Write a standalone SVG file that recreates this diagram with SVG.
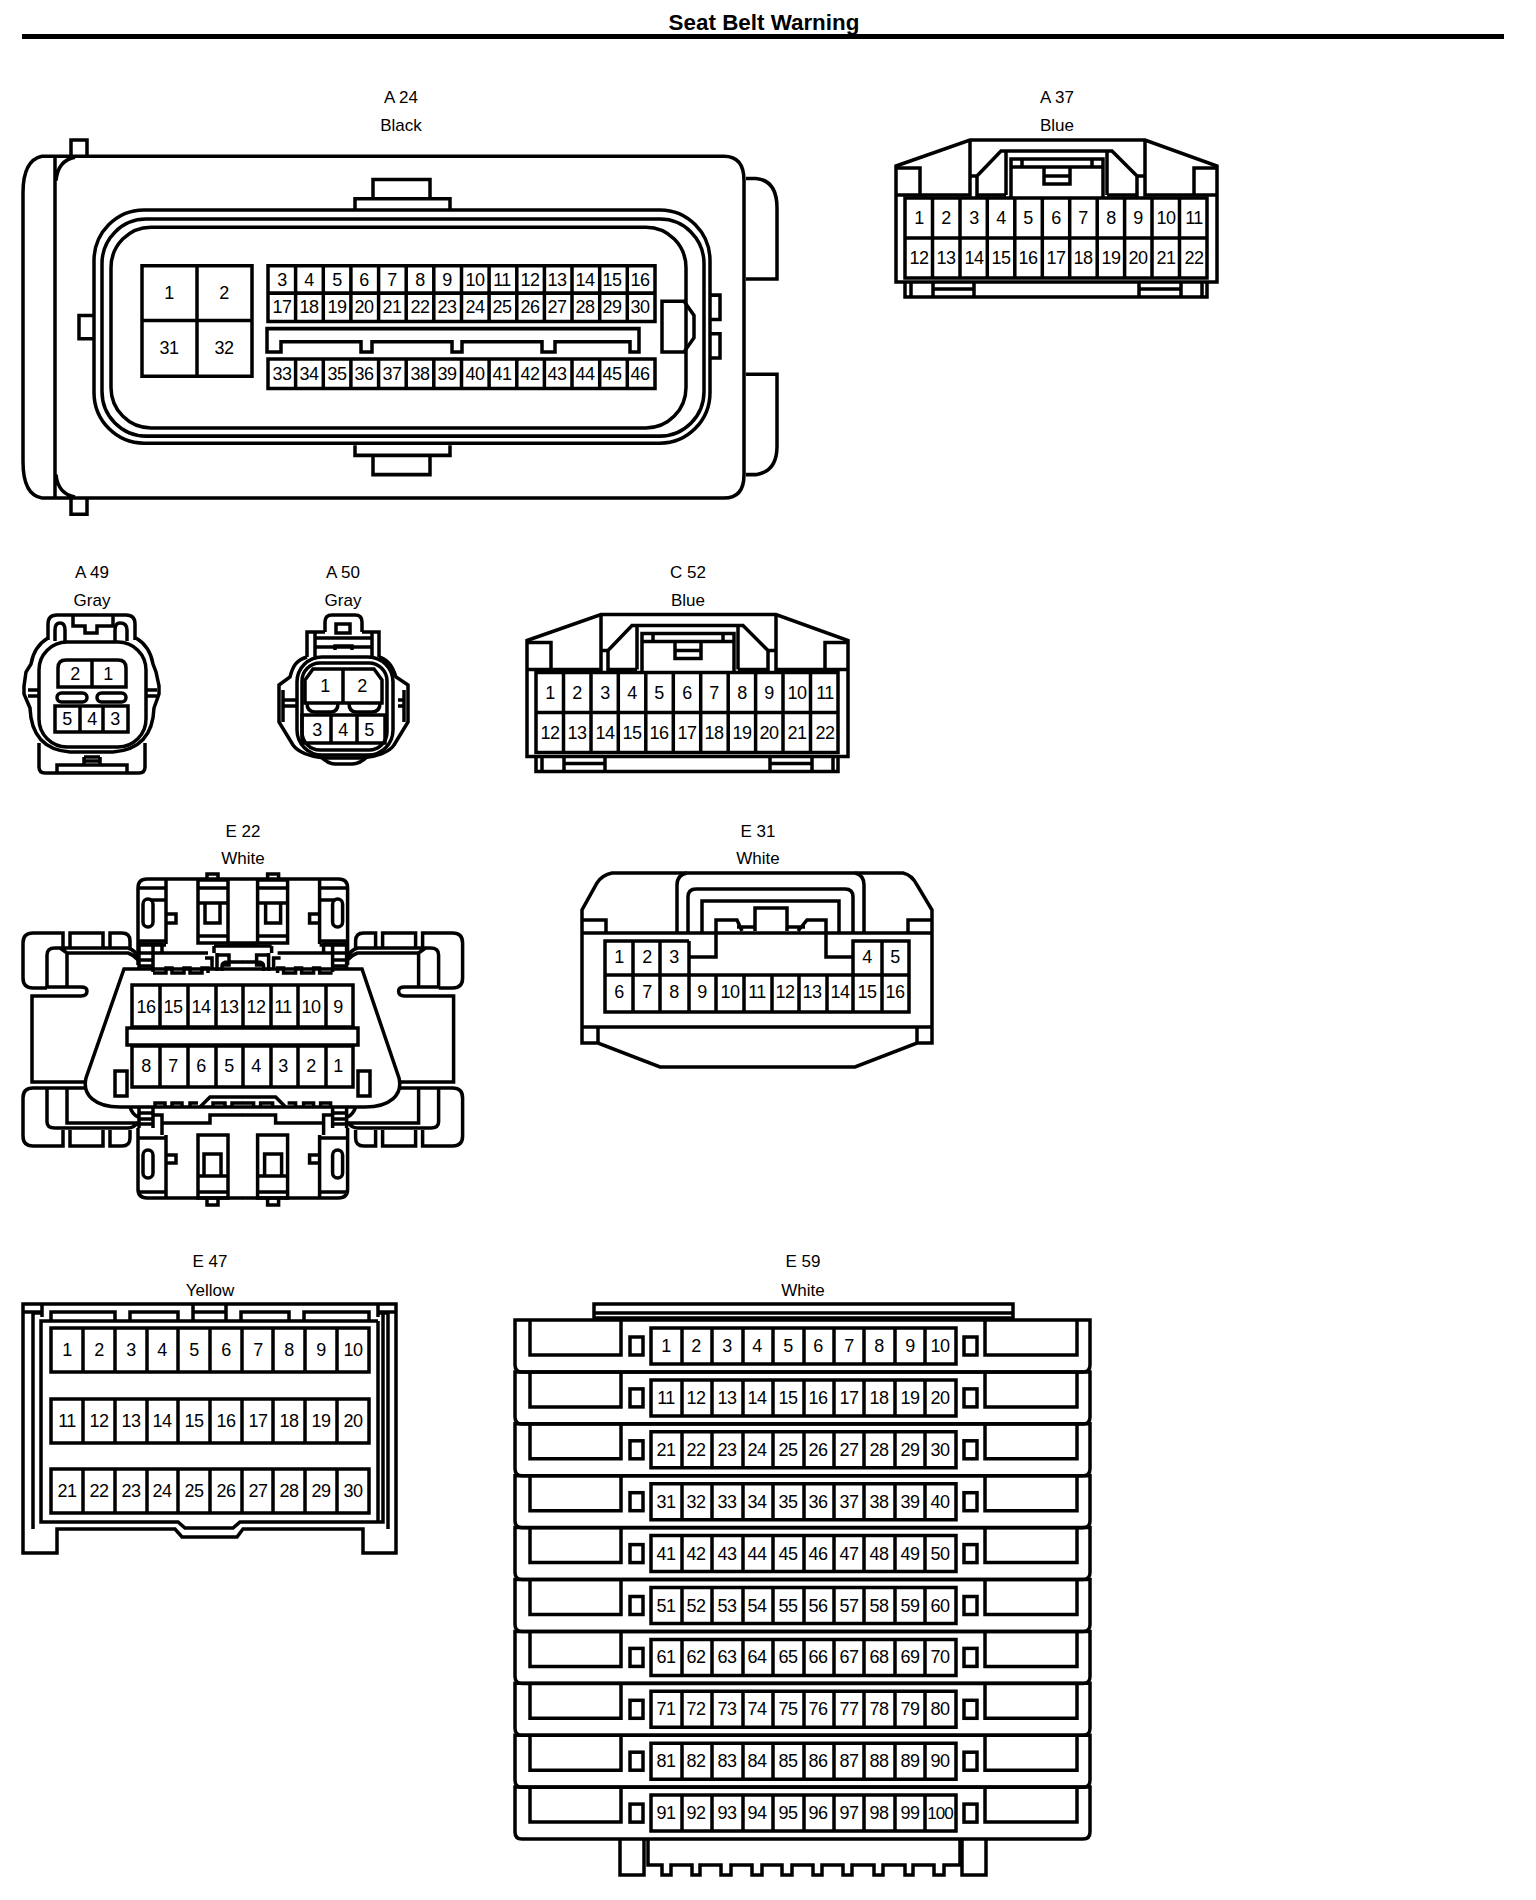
<svg xmlns="http://www.w3.org/2000/svg" xmlns:xlink="http://www.w3.org/1999/xlink" width="1536" height="1900" viewBox="0 0 1536 1900">
<style>
.s{fill:none;stroke:#000;stroke-width:3.5}
text{font-family:"Liberation Sans",Arial,sans-serif;text-anchor:middle;fill:#000;font-size:18px;letter-spacing:-0.5px}
.l{font-size:17px;letter-spacing:0}
.ti{font-size:22.4px;font-weight:bold;letter-spacing:0}
</style>
<defs>
<g id="shell22" class="s">
<path d="M896,166L970,140H1145L1217,166V282H896Z"/>
<path d="M896,168H920V195M896,195H970V140M977,195H1006M1107,195H1137M1145,140V195H1217M1217,168H1194V195"/>
<path d="M970,176H977V198L977,176L1001,151H1112L1137,176V198M1137,176H1145"/>
<path d="M1006,151V195M1107,151V195"/>
<path d="M1011,197V159H1103V197M1011,167H1103M1022,159V167M1092,159V167"/>
<path d="M1044,168V184H1070V168M1044,176H1070"/>
<path d="M905,198H1207V278H905ZM905,238H1207M932.5,198V278M960,198V278M987.3,198V278M1014.8,198V278M1042.3,198V278M1069.7,198V278M1097.2,198V278M1124.6,198V278M1152,198V278M1179.5,198V278"/>
<path d="M905,282V297H1207V282M911,282V297M933,282V297M974,282V297M933,289H974M1139,282V297M1181,282V297M1139,289H1181M1202,282V297"/>
</g>
<g id="e22half" class="s">
<path d="M138,965V888Q138,879 147,879H243M138,1128V1189Q138,1198 147,1198H243"/>
<path d="M207,879V874H218V879M207,1198V1205H218V1198"/>
<path d="M166,879V944M138,888H166M150,900H166M138,941H166M138,945H166"/>
<rect x="143" y="899" width="10" height="28" rx="5"/>
<path d="M166,914H176V923H166"/>
<rect x="198" y="880" width="30" height="63"/>
<path d="M198,888H228M198,903H228M198,936H228M205,903V923H220V903M228,943H243M214,946H243M214,946V953M153,953H208M205,958H212V968M217,953V971M217,955H229V965H222M222,971V966Q222,962 228,962H243"/>
<path d="M139,945V968M139,953H153M139,960H153M139,966H153M153,945V972M139,944H162V953"/>
<path d="M153,973H166V968H172V973H184V968H190V973H202V968H208V973"/>
<path d="M139,1108V1128M139,1113H153M139,1119H153M139,1124H153M153,1108V1128M153,1115H162V1135M162,1123H210V1115H243M130,1107Q132,1114 138,1117"/>
<path d="M166,1135V1198M138,1138H166M138,1192H166"/>
<rect x="143" y="1150" width="10" height="28" rx="5"/>
<path d="M166,1155H176V1163H166"/>
<rect x="198" y="1135" width="30" height="63"/>
<path d="M198,1176H228M198,1192H228M204,1176V1154H221V1176"/>
<path d="M155,1107V1103H165V1107M172,1107V1103H182V1107M190,1107V1103H198M200,1107L210,1097H243M213,1107V1103H225V1107M232,1107V1103H243"/>
<path d="M63,948V933H33Q23,933 23,943V978Q23,988 33,988H47M70,948V933H103V948M110,948V933H122Q130,933 130,941V948"/>
<path d="M47,988V955Q47,948 55,948H128Q135,950 138,957M60,948L67,953H128Q134,955 138,960M67,953V988"/>
<path d="M47,987H81Q87,987 87,991Q87,996 81,996H32V1082H85"/>
<path d="M85,1088H33Q23,1088 23,1098V1136Q23,1146 33,1146H63V1130M70,1130V1146H103V1130M110,1130V1146H122Q130,1146 130,1138V1130"/>
<path d="M47,1088V1122Q47,1128 55,1128H128Q134,1128 138,1122M67,1088V1123H138"/>
</g>
<g id="e59row" class="s">
<path d="M515,0V45Q515,52 522,52H1083Q1090,52 1090,45V0Z"/>
<path d="M530,0V35H621V0M1077,0V35H985V0"/>
<rect x="630" y="17" width="13" height="18"/>
<rect x="964" y="17" width="13" height="18"/>
<path d="M651,8H956V44H651ZM682,8V44M712,8V44M743,8V44M773,8V44M804,8V44M834,8V44M864,8V44M895,8V44M925,8V44"/>
</g>
</defs>

<g id="title">
<text class="ti" x="764" y="30">Seat Belt Warning</text>
<rect x="22" y="34" width="1482" height="5"/>
</g>

<g id="A24">
<text class="l" x="401" y="103">A 24</text>
<text class="l" x="401" y="131">Black</text>
<g transform="matrix(1 0 0 1.0142 0 0)">
<g class="s">
<path d="M55,154H724Q744,154 744,178V468Q744,491 724,491H42Q23,488 23,455V190Q23,158 42,154H55M55,154V491M75,155Q58,158 56,178M56,468Q58,487 75,490"/>
<path d="M71,154V138H87V154M71,491V507H87V491"/>
<path d="M373,195V177H430V195M355,207V196H450V207M355,439V449H450V439M373,450V468H430V450"/>
<path d="M746,176H756Q777,178 777,205V275H746M746,369H777V440Q777,465 756,468H746"/>
<path d="M710,291H720V315H710M710,329H720V353H710M94,311H79V334H94"/>
<rect x="94" y="207" width="616" height="230" rx="50"/>
<rect x="102" y="216" width="602" height="214" rx="44"/>
<rect x="111" y="224" width="575" height="198" rx="40"/>
<path d="M142,262H252V371H142ZM197,262V371M142,316H252"/>
<path d="M268,262H655V317H268ZM268,289H655M295.6,262V317M323.3,262V317M350.9,262V317M378.6,262V317M406.2,262V317M433.8,262V317M461.5,262V317M489.1,262V317M516.8,262V317M544.4,262V317M572,262V317M599.7,262V317M627.3,262V317"/>
<path d="M268,354H655V383H268ZM295.6,354V383M323.3,354V383M350.9,354V383M378.6,354V383M406.2,354V383M433.8,354V383M461.5,354V383M489.1,354V383M516.8,354V383M544.4,354V383M572,354V383M599.7,354V383M627.3,354V383"/>
<path d="M267,347V324H639V347H630V337H555V347H542V337H462V347H452V337H372V347H361V337H281V347Z"/>
<path d="M662,297H684L694,311V333L684,347H662Z"/>
</g>
<text x="169" y="295">1</text><text x="224" y="295">2</text><text x="169" y="349">31</text><text x="224" y="349">32</text>
<text x="282" y="282">3</text><text x="309" y="282">4</text><text x="337" y="282">5</text><text x="364" y="282">6</text><text x="392" y="282">7</text><text x="420" y="282">8</text><text x="447" y="282">9</text><text x="475" y="282">10</text><text x="502" y="282">11</text><text x="530" y="282">12</text><text x="557" y="282">13</text><text x="585" y="282">14</text><text x="612" y="282">15</text><text x="640" y="282">16</text>
<text x="282" y="309">17</text><text x="309" y="309">18</text><text x="337" y="309">19</text><text x="364" y="309">20</text><text x="392" y="309">21</text><text x="420" y="309">22</text><text x="447" y="309">23</text><text x="475" y="309">24</text><text x="502" y="309">25</text><text x="530" y="309">26</text><text x="557" y="309">27</text><text x="585" y="309">28</text><text x="612" y="309">29</text><text x="640" y="309">30</text>
<text x="282" y="375">33</text><text x="309" y="375">34</text><text x="337" y="375">35</text><text x="364" y="375">36</text><text x="392" y="375">37</text><text x="420" y="375">38</text><text x="447" y="375">39</text><text x="475" y="375">40</text><text x="502" y="375">41</text><text x="530" y="375">42</text><text x="557" y="375">43</text><text x="585" y="375">44</text><text x="612" y="375">45</text><text x="640" y="375">46</text>
</g>
</g>

<g id="A37">
<text class="l" x="1057" y="103">A 37</text>
<text class="l" x="1057" y="131">Blue</text>
<use href="#shell22" xlink:href="#shell22"/>
<text x="919" y="224">1</text><text x="946" y="224">2</text><text x="974" y="224">3</text><text x="1001" y="224">4</text><text x="1028" y="224">5</text><text x="1056" y="224">6</text><text x="1083" y="224">7</text><text x="1111" y="224">8</text><text x="1138" y="224">9</text><text x="1166" y="224">10</text><text x="1194" y="224">11</text>
<text x="919" y="264">12</text><text x="946" y="264">13</text><text x="974" y="264">14</text><text x="1001" y="264">15</text><text x="1028" y="264">16</text><text x="1056" y="264">17</text><text x="1083" y="264">18</text><text x="1111" y="264">19</text><text x="1138" y="264">20</text><text x="1166" y="264">21</text><text x="1194" y="264">22</text>
</g>

<g id="A49">
<text class="l" x="92" y="578">A 49</text>
<text class="l" x="92" y="606">Gray</text>
<g class="s">
<path d="M48,640V624Q48,615 57,615H126Q135,615 135,624V640"/>
<path d="M55,641V630Q55,623 60,623Q65,623 65,630V641M115,641V630Q115,623 120,623Q127,623 127,630V641"/>
<path d="M73,616V626H85V633H97V626H113V616"/>
<path d="M48,638C38,644 33,652 31,664L26,672L24,686V694L30,708C31,735 44,750 70,752H113C140,750 153,735 154,708L159,694V686L156,672L153,664C151,652 146,644 136,638"/>
<rect x="39" y="642" width="107" height="105" rx="28"/>
<path d="M28,690H38M28,696H38M147,690H157M147,696H157"/>
<path d="M58,687V668Q58,660 66,660H118Q126,660 126,668V687ZM92,660V687"/>
<rect x="57" y="693" width="30" height="9" rx="4.5"/>
<rect x="97" y="693" width="29" height="9" rx="4.5"/>
<path d="M55,706H128V732H55ZM80,706V732M103,706V732"/>
<path d="M39,743V767Q39,773 45,773H139Q145,773 145,767V743M57,772V765H127V772M84,757V765M100,757V765M84,757H100M84,761H100"/>
</g>
<text x="75" y="680">2</text><text x="108" y="680">1</text><text x="67" y="725">5</text><text x="92" y="725">4</text><text x="115" y="725">3</text>
</g>

<g id="A50">
<text class="l" x="343" y="578">A 50</text>
<text class="l" x="343" y="606">Gray</text>
<g class="s">
<path d="M325,632V622Q325,615 332,615H355Q362,615 362,622V632"/>
<rect x="336" y="624" width="14" height="9"/>
<path d="M325,632H315V657M362,632H372V657M315,632H307V657M372,632H379V657M315,638H372M315,647H372M335,650V646H352V650"/>
<path d="M307,657C297,660 293,665 290,677L279,685V722L293,745C300,755 315,757 325,758H362C375,757 390,752 394,745L408,722V685L396,677C392,665 388,660 379,657"/>
<rect x="297" y="657" width="96" height="98" rx="25"/>
<rect x="302" y="663" width="85" height="87" rx="18"/>
<path d="M283,700H297M283,706H297M398,700H404M398,706H404M283,690V722M404,690V722"/>
<path d="M305,703V680L313,669H374L382,680V703ZM343,669V703"/>
<path d="M307,703Q307,712 315,712H331Q338,712 338,703M349,703Q349,712 356,712H372Q380,712 380,703"/>
<path d="M302,715H385V743H302ZM331,715V743M357,715V743"/>
<path d="M320,756Q328,764 335,764H352Q360,764 368,756"/>
</g>
<text x="325" y="692">1</text><text x="362" y="692">2</text><text x="317" y="736">3</text><text x="343" y="736">4</text><text x="369" y="736">5</text>
</g>

<g id="C52" transform="translate(-369 474.5)">
<text class="l" x="1057" y="103">C 52</text>
<text class="l" x="1057" y="131">Blue</text>
<use href="#shell22" xlink:href="#shell22"/>
<text x="919" y="224">1</text><text x="946" y="224">2</text><text x="974" y="224">3</text><text x="1001" y="224">4</text><text x="1028" y="224">5</text><text x="1056" y="224">6</text><text x="1083" y="224">7</text><text x="1111" y="224">8</text><text x="1138" y="224">9</text><text x="1166" y="224">10</text><text x="1194" y="224">11</text>
<text x="919" y="264">12</text><text x="946" y="264">13</text><text x="974" y="264">14</text><text x="1001" y="264">15</text><text x="1028" y="264">16</text><text x="1056" y="264">17</text><text x="1083" y="264">18</text><text x="1111" y="264">19</text><text x="1138" y="264">20</text><text x="1166" y="264">21</text><text x="1194" y="264">22</text>
</g>

<g id="E22">
<text class="l" x="243" y="837">E 22</text>
<text class="l" x="243" y="864">White</text>
<use href="#e22half" xlink:href="#e22half"/>
<use href="#e22half" xlink:href="#e22half" transform="matrix(-1 0 0 1 485.6 0)"/>
<g class="s">
<path d="M124,969H362L399,1078C403,1095 390,1107 365,1107H120C95,1107 82,1095 86,1078Z"/>
<path d="M132,985H353V1027H132ZM160,985V1027M188,985V1027M216,985V1027M243,985V1027M271,985V1027M298,985V1027M326,985V1027"/>
<rect x="127" y="1028" width="231" height="17"/>
<path d="M132,1046H353V1087H132ZM160,1046V1087M188,1046V1087M216,1046V1087M243,1046V1087M271,1046V1087M298,1046V1087M326,1046V1087"/>
<rect x="115" y="1071" width="12" height="25"/>
<rect x="358" y="1071" width="12" height="25"/>
</g>
<text x="146" y="1013">16</text><text x="173" y="1013">15</text><text x="201" y="1013">14</text><text x="229" y="1013">13</text><text x="256" y="1013">12</text><text x="283" y="1013">11</text><text x="311" y="1013">10</text><text x="338" y="1013">9</text>
<text x="146" y="1072">8</text><text x="173" y="1072">7</text><text x="201" y="1072">6</text><text x="229" y="1072">5</text><text x="256" y="1072">4</text><text x="283" y="1072">3</text><text x="311" y="1072">2</text><text x="338" y="1072">1</text>
</g>

<g id="E31">
<text class="l" x="758" y="837">E 31</text>
<text class="l" x="758" y="864">White</text>
<g class="s">
<path d="M582,1043V910L597,883Q602,875 612,873H903Q912,875 917,885L932,910V1043H917L855,1067H660L598,1043Z"/>
<path d="M582,1027H932M598,1027V1043M917,1027V1043"/>
<path d="M582,933H932M582,920H606V933M932,920H908V933"/>
<path d="M677,933V885Q677,875 687,873M864,933V885Q864,875 855,873"/>
<path d="M688,933V897Q688,889 696,889H845Q853,889 853,897V933"/>
<path d="M702,933V901H839V933"/>
<path d="M755,931V908H787V931"/>
<path d="M689,957H716V920H737L742,931M737,927H755M853,957H826V920H807L798,931M805,927H787"/>
<path d="M689,941H605V1012H909V941H853V1012M605,975H909M633,941V1012M660,941V1012M689,941V1012M716,975V1012M744,975V1012M772,975V1012M799,975V1012M827,975V1012M882,941V1012"/>
</g>
<text x="619" y="963">1</text><text x="647" y="963">2</text><text x="674" y="963">3</text><text x="867" y="963">4</text><text x="895" y="963">5</text>
<text x="619" y="998">6</text><text x="647" y="998">7</text><text x="674" y="998">8</text><text x="702" y="998">9</text><text x="730" y="998">10</text><text x="757" y="998">11</text><text x="785" y="998">12</text><text x="812" y="998">13</text><text x="840" y="998">14</text><text x="867" y="998">15</text><text x="895" y="998">16</text>
</g>

<g id="E47">
<text class="l" x="210" y="1267">E 47</text>
<text class="l" x="210" y="1296">Yellow</text>
<g class="s">
<path d="M23,1304H396V1553H363V1529H243L237,1537H182L175,1529H57V1553H23Z"/>
<path d="M33,1529V1313H42M388,1529V1313H378M42,1304V1317M378,1304V1317M23,1312H42M378,1312H396M383,1313V1522H240L233,1528H185L178,1522H41V1321H378"/>
<path d="M51,1321V1312H115V1321M130,1321V1312H178V1321M193,1321V1304M226,1321V1304M193,1312H226M241,1321V1312H289V1321M304,1321V1312H369V1321"/>
<path d="M378,1321V1522"/>
<path d="M51,1328H369V1372H51ZM83,1328V1372M115,1328V1372M147,1328V1372M178,1328V1372M210,1328V1372M242,1328V1372M273,1328V1372M305,1328V1372M337,1328V1372"/>
<path d="M51,1399H369V1443H51ZM83,1399V1443M115,1399V1443M147,1399V1443M178,1399V1443M210,1399V1443M242,1399V1443M273,1399V1443M305,1399V1443M337,1399V1443"/>
<path d="M51,1469H369V1513H51ZM83,1469V1513M115,1469V1513M147,1469V1513M178,1469V1513M210,1469V1513M242,1469V1513M273,1469V1513M305,1469V1513M337,1469V1513"/>
</g>
<text x="67" y="1356">1</text><text x="99" y="1356">2</text><text x="131" y="1356">3</text><text x="162" y="1356">4</text><text x="194" y="1356">5</text><text x="226" y="1356">6</text><text x="258" y="1356">7</text><text x="289" y="1356">8</text><text x="321" y="1356">9</text><text x="353" y="1356">10</text>
<text x="67" y="1427">11</text><text x="99" y="1427">12</text><text x="131" y="1427">13</text><text x="162" y="1427">14</text><text x="194" y="1427">15</text><text x="226" y="1427">16</text><text x="258" y="1427">17</text><text x="289" y="1427">18</text><text x="321" y="1427">19</text><text x="353" y="1427">20</text>
<text x="67" y="1497">21</text><text x="99" y="1497">22</text><text x="131" y="1497">23</text><text x="162" y="1497">24</text><text x="194" y="1497">25</text><text x="226" y="1497">26</text><text x="258" y="1497">27</text><text x="289" y="1497">28</text><text x="321" y="1497">29</text><text x="353" y="1497">30</text>
</g>

<g id="E59">
<text class="l" x="803" y="1267">E 59</text>
<text class="l" x="803" y="1296">White</text>
<g class="s">
<path d="M594,1320V1304H1013V1320M594,1313H1013M594,1318H1013"/>
<path d="M620,1839V1875H644V1839M962,1839V1875H986V1839"/>
<path d="M648,1839V1865H662V1875H671V1865H692V1875H700V1865H721V1875H731V1865H752V1875H762V1865H782V1875H792V1865H813V1875H822V1865H843V1875H852V1865H874V1875H883V1865H905V1875H913V1865H934V1875H944V1865H960V1839"/>
</g>
<g transform="translate(0 1320)"><use href="#e59row" xlink:href="#e59row"/><text x="666" y="32">1</text><text x="696" y="32">2</text><text x="727" y="32">3</text><text x="757" y="32">4</text><text x="788" y="32">5</text><text x="818" y="32">6</text><text x="849" y="32">7</text><text x="879" y="32">8</text><text x="910" y="32">9</text><text x="940" y="32">10</text></g>
<g transform="translate(0 1371.9)"><use href="#e59row" xlink:href="#e59row"/><text x="666" y="32">11</text><text x="696" y="32">12</text><text x="727" y="32">13</text><text x="757" y="32">14</text><text x="788" y="32">15</text><text x="818" y="32">16</text><text x="849" y="32">17</text><text x="879" y="32">18</text><text x="910" y="32">19</text><text x="940" y="32">20</text></g>
<g transform="translate(0 1423.8)"><use href="#e59row" xlink:href="#e59row"/><text x="666" y="32">21</text><text x="696" y="32">22</text><text x="727" y="32">23</text><text x="757" y="32">24</text><text x="788" y="32">25</text><text x="818" y="32">26</text><text x="849" y="32">27</text><text x="879" y="32">28</text><text x="910" y="32">29</text><text x="940" y="32">30</text></g>
<g transform="translate(0 1475.7)"><use href="#e59row" xlink:href="#e59row"/><text x="666" y="32">31</text><text x="696" y="32">32</text><text x="727" y="32">33</text><text x="757" y="32">34</text><text x="788" y="32">35</text><text x="818" y="32">36</text><text x="849" y="32">37</text><text x="879" y="32">38</text><text x="910" y="32">39</text><text x="940" y="32">40</text></g>
<g transform="translate(0 1527.6)"><use href="#e59row" xlink:href="#e59row"/><text x="666" y="32">41</text><text x="696" y="32">42</text><text x="727" y="32">43</text><text x="757" y="32">44</text><text x="788" y="32">45</text><text x="818" y="32">46</text><text x="849" y="32">47</text><text x="879" y="32">48</text><text x="910" y="32">49</text><text x="940" y="32">50</text></g>
<g transform="translate(0 1579.5)"><use href="#e59row" xlink:href="#e59row"/><text x="666" y="32">51</text><text x="696" y="32">52</text><text x="727" y="32">53</text><text x="757" y="32">54</text><text x="788" y="32">55</text><text x="818" y="32">56</text><text x="849" y="32">57</text><text x="879" y="32">58</text><text x="910" y="32">59</text><text x="940" y="32">60</text></g>
<g transform="translate(0 1631.4)"><use href="#e59row" xlink:href="#e59row"/><text x="666" y="32">61</text><text x="696" y="32">62</text><text x="727" y="32">63</text><text x="757" y="32">64</text><text x="788" y="32">65</text><text x="818" y="32">66</text><text x="849" y="32">67</text><text x="879" y="32">68</text><text x="910" y="32">69</text><text x="940" y="32">70</text></g>
<g transform="translate(0 1683.3)"><use href="#e59row" xlink:href="#e59row"/><text x="666" y="32">71</text><text x="696" y="32">72</text><text x="727" y="32">73</text><text x="757" y="32">74</text><text x="788" y="32">75</text><text x="818" y="32">76</text><text x="849" y="32">77</text><text x="879" y="32">78</text><text x="910" y="32">79</text><text x="940" y="32">80</text></g>
<g transform="translate(0 1735.2)"><use href="#e59row" xlink:href="#e59row"/><text x="666" y="32">81</text><text x="696" y="32">82</text><text x="727" y="32">83</text><text x="757" y="32">84</text><text x="788" y="32">85</text><text x="818" y="32">86</text><text x="849" y="32">87</text><text x="879" y="32">88</text><text x="910" y="32">89</text><text x="940" y="32">90</text></g>
<g transform="translate(0 1787.1)"><use href="#e59row" xlink:href="#e59row"/><text x="666" y="32">91</text><text x="696" y="32">92</text><text x="727" y="32">93</text><text x="757" y="32">94</text><text x="788" y="32">95</text><text x="818" y="32">96</text><text x="849" y="32">97</text><text x="879" y="32">98</text><text x="910" y="32">99</text><text x="940" y="32" style="font-size:17px;letter-spacing:-1px">100</text></g>
</g>
</svg>
